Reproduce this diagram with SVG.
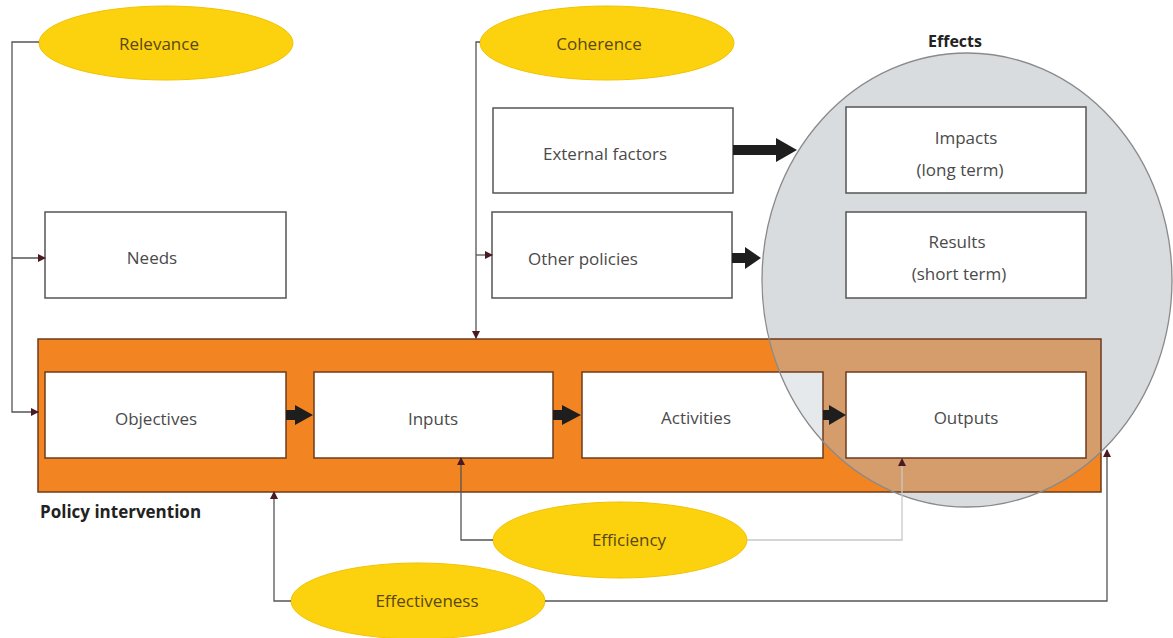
<svg xmlns="http://www.w3.org/2000/svg" width="1173" height="638" viewBox="0 0 1173 638">
<style>
.box{fill:#ffffff;stroke:#555555;stroke-width:1.5}
.inbox{fill:#ffffff;stroke:#6e3b1c;stroke-width:1.5}
.crit{fill:#fcd20e;stroke:#f2c200;stroke-width:1}
.t{font-family:"Open Sans","Liberation Sans",sans-serif;font-size:17px;fill:#4a4a4a;text-anchor:middle}
.ct{font-family:"Open Sans","Liberation Sans",sans-serif;font-size:17px;fill:#5a4712;text-anchor:middle}
.b{font-family:"Open Sans","Liberation Sans",sans-serif;font-size:17px;font-weight:bold;fill:#222222}
.ln{fill:none;stroke:#555555;stroke-width:1.3}
.lnl{fill:none;stroke:#c8c8c8;stroke-width:1.3}
.thick{fill:#1e1e1e}
</style>
<defs>
<marker id="ah" markerWidth="8" markerHeight="8" refX="7" refY="4" orient="auto" markerUnits="userSpaceOnUse">
<path d="M0,0 L8,4 L0,8 Z" fill="#4a1a22"/>
</marker>
<clipPath id="ell"><ellipse cx="967" cy="280" rx="205" ry="227"/></clipPath>
</defs>

<g id="policy-intervention">
<rect x="38" y="339" width="1063" height="153" fill="#f28521" stroke="#6e3b1c" stroke-width="1.5"/>
<text class="b" x="40" y="518">Policy intervention</text>
</g>

<g id="objectives">
<rect class="inbox" x="45" y="372" width="241" height="86"/>
<text class="t" x="156" y="425">Objectives</text>
</g>
<g id="inputs">
<rect class="inbox" x="314" y="372" width="239" height="86"/>
<text class="t" x="433" y="425">Inputs</text>
</g>
<g id="activities">
<rect class="inbox" x="582" y="372" width="241" height="86"/>
<text class="t" x="696" y="424">Activities</text>
</g>

<g id="effects">
<ellipse cx="967" cy="280" rx="205" ry="227" fill="#d9dcdf"/>
<g clip-path="url(#ell)">
<rect x="38" y="339" width="1063" height="153" fill="#d59d6c" stroke="#6e3b1c" stroke-width="1.5"/>
<rect x="582" y="372" width="241" height="86" fill="#e6e9ec" stroke="#6e3b1c" stroke-width="1.5"/>
</g>
<ellipse cx="967" cy="280" rx="205" ry="227" fill="none" stroke="#8a8a8a" stroke-width="1.3"/>
<text class="b" x="955" y="47" text-anchor="middle" style="font-size:16px">Effects</text>
</g>

<g id="outputs">
<rect class="inbox" x="846" y="372" width="240" height="86"/>
<text class="t" x="966" y="424">Outputs</text>
</g>
<g id="impacts">
<rect class="box" x="846" y="107" width="240" height="86"/>
<text class="t" x="966" y="144">Impacts</text>
<text class="t" x="960" y="176">(long term)</text>
</g>
<g id="results">
<rect class="box" x="846" y="212" width="240" height="86"/>
<text class="t" x="957" y="248">Results</text>
<text class="t" x="959" y="280">(short term)</text>
</g>
<g id="external-factors">
<rect class="box" x="493" y="108" width="240" height="85"/>
<text class="t" x="605" y="160">External factors</text>
</g>
<g id="other-policies">
<rect class="box" x="492" y="212" width="240" height="86"/>
<text class="t" x="583" y="265">Other policies</text>
</g>
<g id="needs">
<rect class="box" x="45" y="212" width="241" height="86"/>
<text class="t" x="152" y="264">Needs</text>
</g>

<g id="relevance">
<ellipse class="crit" cx="166" cy="43" rx="127" ry="37"/>
<text class="ct" x="159" y="50">Relevance</text>
</g>
<g id="coherence">
<ellipse class="crit" cx="607" cy="43" rx="127" ry="37"/>
<text class="ct" x="599" y="50">Coherence</text>
</g>
<g id="efficiency">
<ellipse class="crit" cx="620" cy="540" rx="127" ry="38"/>
<text class="ct" x="629" y="546">Efficiency</text>
</g>
<g id="effectiveness">
<ellipse class="crit" cx="418" cy="601" rx="127" ry="38"/>
<text class="ct" x="427" y="607">Effectiveness</text>
</g>

<g id="connectors">
<path class="ln" d="M39,42 H12 V412 H38" marker-end="url(#ah)"/>
<path class="ln" d="M12,258 H45" marker-end="url(#ah)"/>
<path class="ln" d="M480,42 H476 V338" marker-end="url(#ah)"/>
<path class="ln" d="M476,255 H492" marker-end="url(#ah)"/>
<path class="ln" d="M493,540 H461 V458" marker-end="url(#ah)"/>
<path class="lnl" d="M747,540 H902 V466"/>
<path d="M898,466 L902,458 L906,466 Z" fill="#4a1a22"/>
<path class="ln" d="M291,601 H274 V492" marker-end="url(#ah)"/>
<path class="ln" d="M545,601 H1107 V450" marker-end="url(#ah)"/>
<polygon class="thick" points="733,145 776,145 776,138 797,150 776,162 776,155 733,155"/>
<polygon class="thick" points="732,253 745,253 745,247 761,258 745,269 745,263 732,263"/>
<polygon class="thick" points="286,410 295,410 295,405 313,415 295,425 295,420 286,420"/>
<polygon class="thick" points="553,410 562,410 562,405 581,415 562,425 562,420 553,420"/>
<polygon class="thick" points="823,410 829,410 829,405 846,415 829,425 829,420 823,420"/>
</g>
</svg>
